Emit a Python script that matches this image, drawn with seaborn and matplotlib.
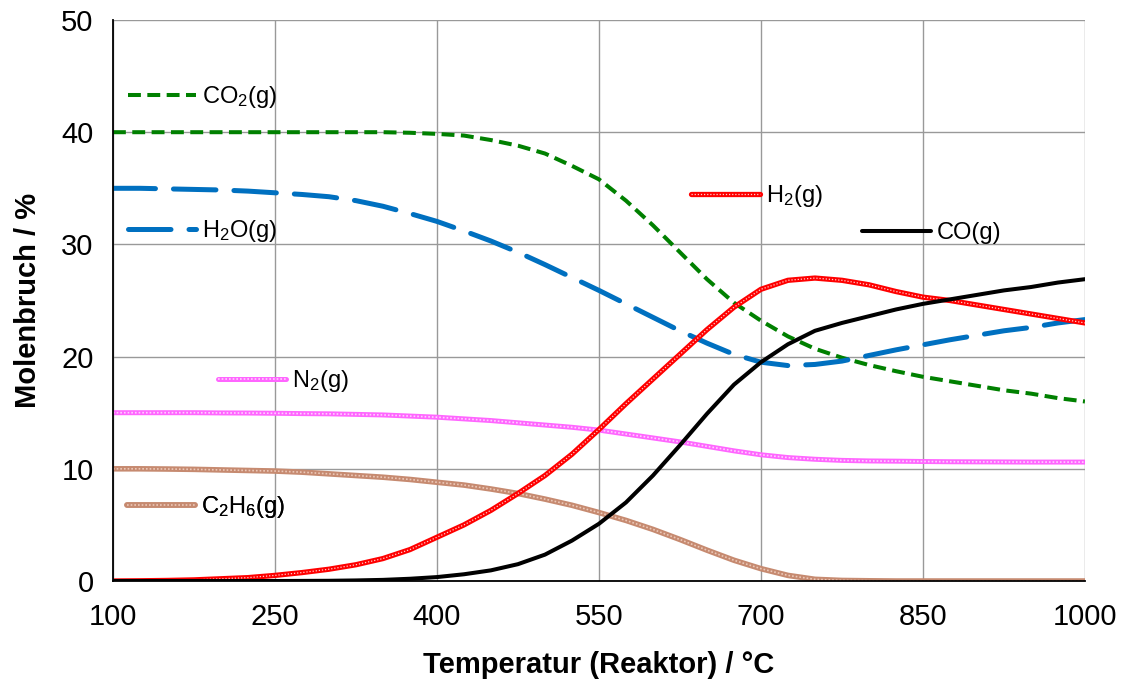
import numpy as np
import pandas as pd
import matplotlib
matplotlib.use("Agg")
import matplotlib.pyplot as plt
import seaborn as sns
from matplotlib.legend_handler import HandlerTuple

# ---- data ----
temperature = [100, 125, 150, 175, 200, 225, 250, 275, 300, 325, 350, 375, 400, 425, 450, 475, 500,
               525, 550, 575, 600, 625, 650, 675, 700, 725, 750, 775, 800, 825, 850, 875, 900, 925,
               950, 975, 1000]
co2 = [40.0, 40.0, 40.0, 40.0, 40.0, 40.0, 40.0, 40.0, 40.0, 40.0, 40.0, 39.95, 39.85, 39.7, 39.3, 38.8, 38.1,
       37.0, 35.8, 33.9, 31.7, 29.3, 26.9, 24.8, 23.2, 21.8, 20.7, 19.9, 19.25, 18.7, 18.2, 17.8, 17.4, 17.0,
       16.7, 16.3, 16.0]
h2o = [35.0, 35.0, 34.95, 34.9, 34.85, 34.75, 34.6, 34.45, 34.25, 33.9, 33.4, 32.75, 32.05, 31.2, 30.3, 29.3, 28.2,
       27.05, 25.9, 24.7, 23.5, 22.3, 21.2, 20.2, 19.5, 19.2, 19.3, 19.6, 20.1, 20.6, 21.05, 21.5, 21.9, 22.3,
       22.6, 23.0, 23.3]
h2 = [0.0, 0.02, 0.05, 0.1, 0.2, 0.3, 0.5, 0.75, 1.05, 1.45, 2.0, 2.8, 3.9, 5.0, 6.3, 7.8, 9.4,
      11.3, 13.5, 15.8, 18.0, 20.2, 22.4, 24.4, 26.0, 26.8, 27.0, 26.8, 26.4, 25.8, 25.3, 25.0, 24.6, 24.2,
      23.8, 23.4, 23.0]
co = [0.0, 0.0, 0.0, 0.0, 0.0, 0.0, 0.0, 0.01, 0.02, 0.05, 0.1, 0.2, 0.35, 0.6, 0.95, 1.5, 2.35,
      3.6, 5.1, 7.0, 9.4, 12.1, 14.9, 17.5, 19.5, 21.1, 22.3, 23.0, 23.6, 24.2, 24.7, 25.1, 25.5, 25.9,
      26.2, 26.6, 26.9]
n2 = [15.0, 15.0, 15.0, 15.0, 14.98, 14.97, 14.95, 14.92, 14.9, 14.85, 14.8, 14.7, 14.6, 14.45, 14.3, 14.1, 13.9,
      13.7, 13.45, 13.1, 12.75, 12.4, 12.0, 11.6, 11.25, 11.0, 10.85, 10.75, 10.7, 10.68, 10.65, 10.63, 10.62, 10.61,
      10.6, 10.6, 10.6]
c2h6 = [10.0, 10.0, 9.98, 9.95, 9.9, 9.85, 9.8, 9.7, 9.55, 9.4, 9.25, 9.05, 8.8, 8.55, 8.2, 7.8, 7.3,
        6.75, 6.1, 5.4, 4.6, 3.7, 2.75, 1.85, 1.1, 0.5, 0.15, 0.05, 0.02, 0.0, 0.0, 0.0, 0.0, 0.0,
        0.0, 0.0, 0.0]

x_ticks = [100, 250, 400, 550, 700, 850, 1000]
y_ticks = [0, 10, 20, 30, 40, 50]

sns.set_style("white")
plt.rcParams["font.family"] = ["Liberation Sans", "DejaVu Sans"]
plt.rcParams["mathtext.fontset"] = "custom"
plt.rcParams["mathtext.rm"] = "Liberation Sans"
plt.rcParams["mathtext.it"] = "Liberation Sans"
plt.rcParams["text.color"] = "black"
plt.rcParams["axes.labelcolor"] = "black"
plt.rcParams["xtick.color"] = "black"
plt.rcParams["ytick.color"] = "black"

fig = plt.figure(figsize=(11.25, 6.92), dpi=100)
ax = fig.add_axes([0.1004, 0.1604, 0.8640, 0.8107])

def draw(y, **kw):
    sns.lineplot(x=temperature, y=y, ax=ax, **kw)
    return ax.lines[-1]

# CO2 green dashed
l_co2 = draw(co2, color="#008000", lw=2.9, linestyle=(0, (3.2, 1.6)))
# H2O blue long dashed
l_h2o = draw(h2o, color="#0070c0", lw=3.6, linestyle=(0, (8.5, 3.6)))
l_h2o.set_dash_capstyle("round")
# N2 pink textured
l_n2a = draw(n2, color="#ff66ff", lw=3.6)
l_n2b = draw(n2, color="#ffd0ff", lw=1.2, linestyle=(0, (1, 1.2)))
# C2H6 brown textured
l_c2a = draw(c2h6, color="#c68a70", lw=4.0)
l_c2b = draw(c2h6, color="#ecc8b8", lw=1.2, linestyle=(0, (1, 1.2)))
# H2 red with white dotted core
l_h2a = draw(h2, color="#ff0000", lw=3.8)
l_h2b = draw(h2, color="#ffd0d0", lw=0.9, linestyle=(0, (1, 1.5)))
# CO black
l_co = draw(co, color="black", lw=2.9)

ax.set_xlim(100, 1000)
ax.set_ylim(0, 50)
ax.set_xticks(x_ticks)
ax.set_yticks(y_ticks)
ax.grid(True, color="#999999", lw=1.0)
ax.set_axisbelow(True)
for s in ["top", "right"]:
    ax.spines[s].set_visible(False)
for s in ["left", "bottom"]:
    ax.spines[s].set_color("black")
    ax.spines[s].set_linewidth(1.3)
ax.tick_params(axis="both", labelsize=21, length=6, color="#888888", labelcolor="black",
               direction="out", pad=8)
ax.tick_params(axis="x", pad=10)

ax.set_xlabel("Temperatur (Reaktor) / °C", fontsize=21, fontweight="bold", labelpad=14, color="black")
ax.set_ylabel("Molenbruch / %", fontsize=21, fontweight="bold", labelpad=14, color="black")

entries = [
    (l_co2, r"CO$_2$(g)", (0.015, 0.863)),
    (l_h2o, r"H$_2$O(g)", (0.015, 0.624)),
    ((l_h2a, l_h2b), r"H$_2$(g)", (0.595, 0.686)),
    (l_co, "CO(g)", (0.771, 0.620)),
    ((l_n2a, l_n2b), r"N$_2$(g)", (0.108, 0.356)),
    ((l_c2a, l_c2b), r"C$_2$H$_6$(g)", (0.014, 0.132)),
]
for h, lab, pos in entries:
    leg = ax.legend(handles=[h], labels=[lab], loc="center left", bbox_to_anchor=pos,
                    frameon=False, fontsize=17, handlelength=2.9, handletextpad=0.25,
                    borderpad=0, borderaxespad=0, labelcolor="black",
                    handler_map={tuple: HandlerTuple(ndivide=1)})
    ax.add_artist(leg)

fig.savefig("out.png", dpi=100)
